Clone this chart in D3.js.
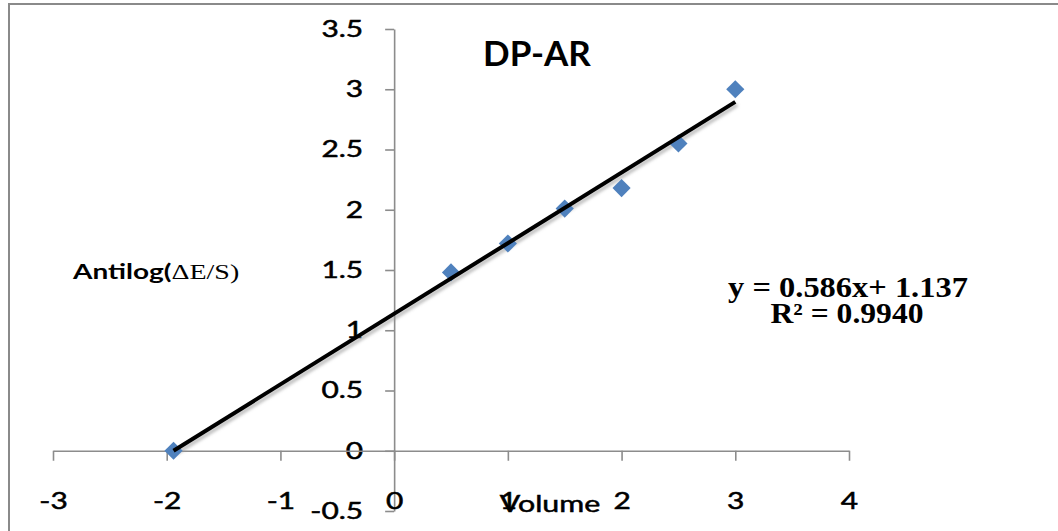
<!DOCTYPE html>
<html>
<head>
<meta charset="utf-8">
<script src="https://cdn.jsdelivr.net/npm/d3@7"></script>
<style>
  html, body { margin: 0; padding: 0; background: #fff; }
  svg { display: block; }
</style>
</head>
<body>
<svg id="chart" width="1058" height="531"></svg>
<script>
// Gran-type plot: antilog(ΔE/S) against titrant volume
const volume  = [-1.94, 0.5, 1, 1.5, 2, 2.5, 3];
const antilog = [0, 1.48, 1.72, 2.01, 2.18, 2.55, 3.0];

// linear trendline
const slope = 0.586;
const intercept = 1.137;
const rSquared = "0.9940";

const xTickValues = [-3, -2, -1, 0, 1, 2, 3, 4];
const yTickValues = [-0.5, 0, 0.5, 1, 1.5, 2, 2.5, 3, 3.5];

const svg = d3.select("#chart");

// outer chart frame
svg.append("rect")
  .attr("x", 9).attr("y", 4)
  .attr("width", 1100).attr("height", 600)
  .attr("fill", "#fff")
  .attr("stroke", "#8a8a8a")
  .attr("stroke-width", 2);

const x = d3.scaleLinear().domain([-3, 4]).range([53, 849]);
const y = d3.scaleLinear().domain([-0.5, 3.5]).range([511, 29]);

const axisColor = "#8c8c8c";
const sans = "Lato, 'Open Sans', sans-serif";
const serif = "'Liberation Serif', 'Times New Roman', serif";

// widen a text horizontally around its anchor point
function widen(sel, s) {
  sel.each(function () {
    const t = d3.select(this);
    const tx = +t.attr("x") || 0;
    const ty = +t.attr("y") || 0;
    t.attr("x", 0).attr("y", 0)
      .attr("transform", `translate(${tx},${ty}) scale(${s},1)`);
  });
}

// vertical axis crossing at x = 0
const gy = svg.append("g")
  .attr("transform", `translate(${x(0)},0)`)
  .call(d3.axisLeft(y).tickValues(yTickValues).tickSize(9).tickSizeOuter(0).tickPadding(22)
    .tickFormat(d => String(d)));

// horizontal axis crossing at y = 0, labels sit at the bottom of the plot
const gx = svg.append("g")
  .attr("transform", `translate(0,${y(0)})`)
  .call(d3.axisBottom(x).tickValues(xTickValues).tickSize(10).tickSizeOuter(0).tickPadding(32)
    .tickFormat(d => String(d)));

[gx, gy].forEach(g => {
  g.select(".domain").attr("stroke", axisColor).attr("stroke-width", 1.6);
  g.selectAll(".tick line").attr("stroke", axisColor).attr("stroke-width", 1.6);
  const labels = g.selectAll(".tick text")
    .attr("fill", "#000")
    .attr("stroke", "#000")
    .attr("stroke-width", 0.5)
    .style("font-family", sans)
    .style("font-size", "23px");
  widen(labels, 1.3);
});

// shadow filter for the trendline
const defs = svg.append("defs");
const f = defs.append("filter").attr("id", "soft").attr("x", "-10%").attr("y", "-10%")
  .attr("width", "120%").attr("height", "120%");
f.append("feGaussianBlur").attr("stdDeviation", 1.5);

const x0 = d3.min(volume), x1 = d3.max(volume);
const fitLine = d3.line().x(d => x(d)).y(d => y(slope * d + intercept));

svg.append("path")
  .datum([x0, x1])
  .attr("d", fitLine)
  .attr("transform", "translate(2,3)")
  .attr("stroke", "#9a9a9a")
  .attr("stroke-opacity", 0.6)
  .attr("stroke-width", 4)
  .attr("fill", "none")
  .attr("filter", "url(#soft)");

// data markers (diamonds)
const diamond = d3.symbol().type(d3.symbolSquare).size(165);
svg.append("g")
  .selectAll("path")
  .data(volume.map((v, i) => [v, antilog[i]]))
  .join("path")
  .attr("d", diamond)
  .attr("transform", d => `translate(${x(d[0])},${y(d[1])}) rotate(45)`)
  .attr("fill", "#4f81bd");

// trendline
svg.append("path")
  .datum([x0, x1])
  .attr("d", fitLine)
  .attr("stroke", "#000")
  .attr("stroke-width", 4)
  .attr("fill", "none");

// title
svg.append("text")
  .attr("x", 537).attr("y", 66)
  .attr("text-anchor", "middle")
  .style("font-family", sans)
  .style("font-weight", "bold")
  .style("font-size", "35px")
  .text("DP-AR");

// axis titles
const yTitle = svg.append("text")
  .attr("x", 73).attr("y", 279)
  .style("font-size", "20px");
yTitle.append("tspan")
  .style("font-family", sans).style("font-weight", "bold")
  .text("Antilog(");
yTitle.append("tspan")
  .style("font-family", serif)
  .text("ΔE/S)");
widen(yTitle, 1.4);

const xTitle = svg.append("text")
  .attr("x", 550).attr("y", 512)
  .attr("text-anchor", "middle")
  .attr("stroke", "#000")
  .attr("stroke-width", 0.5)
  .style("font-family", sans)
  .style("font-size", "23px")
  .text("Volume");
widen(xTitle, 1.32);

// trendline equation
const eq = svg.append("text")
  .attr("x", 848).attr("y", 297)
  .attr("text-anchor", "middle")
  .style("font-family", serif).style("font-weight", "bold").style("font-size", "29px")
  .text(`y = ${slope}x+ ${intercept}`);
widen(eq, 1.12);
const r2 = svg.append("text")
  .attr("x", 847).attr("y", 323)
  .attr("text-anchor", "middle")
  .style("font-family", serif).style("font-weight", "bold").style("font-size", "29px")
  .text(`R² = ${rSquared}`);
widen(r2, 1.09);
</script>
</body>
</html>
